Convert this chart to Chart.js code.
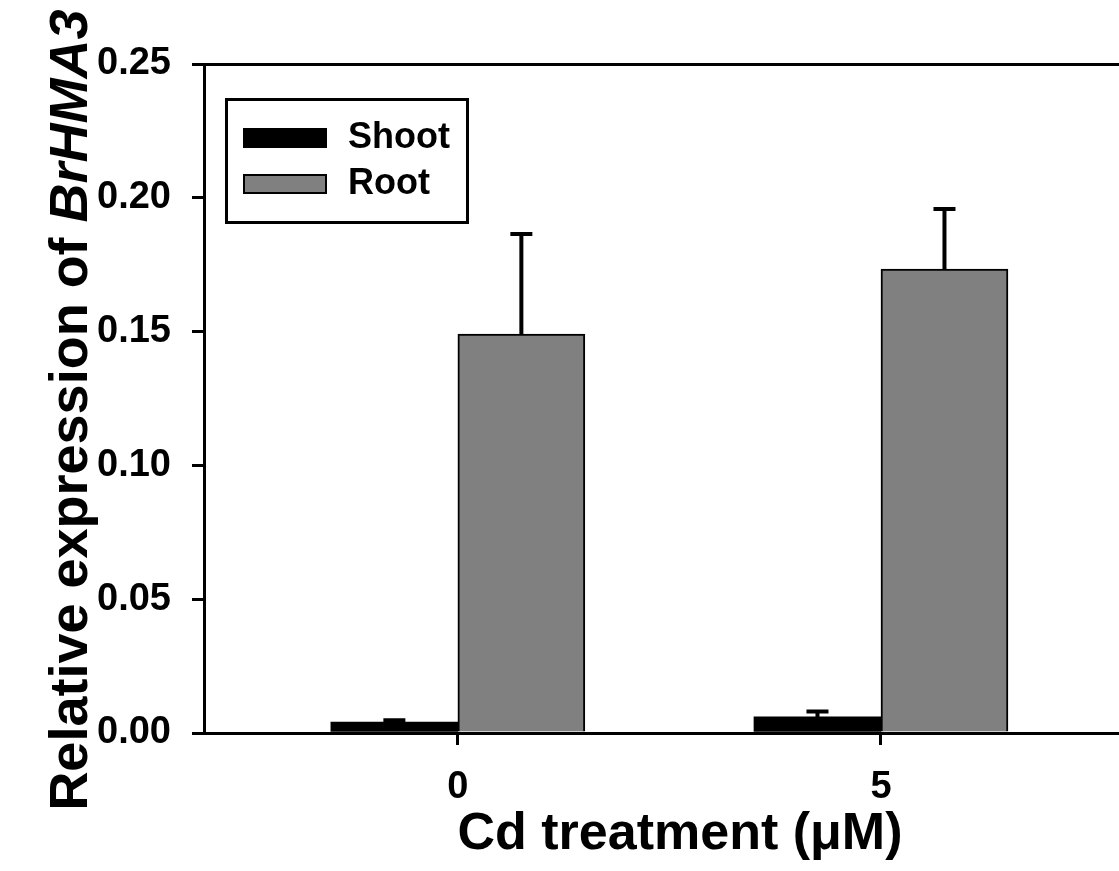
<!DOCTYPE html>
<html>
<head>
<meta charset="utf-8">
<script src="https://cdn.jsdelivr.net/npm/chart.js@4.4.1/dist/chart.umd.min.js"></script>
<style>
  html, body { margin: 0; padding: 0; background: #fff; }
  #wrap { width: 1119px; height: 871px; overflow: hidden; }
</style>
</head>
<body>
<div id="wrap"><canvas id="chart" width="1156" height="871"></canvas></div>
<script>
// Data
const treatments = [0, 5];
const seriesNames = ["Shoot", "Root"];
const shootMeans = [0.0041, 0.0060];
const shootErrors = [0.0007, 0.0020];
const rootMeans = [0.1491, 0.1734];
const rootErrors = [0.0374, 0.0224];
const yTicks = [0, 0.05, 0.10, 0.15, 0.20, 0.25];

const FONT = "'Liberation Sans', Arial, Helvetica, sans-serif";

// error bars (upper only, with a cap)
const errorBars = {
  id: "errorBars",
  afterDatasetsDraw(chart) {
    const { ctx, scales: { y } } = chart;
    ctx.save();
    ctx.strokeStyle = "#000";
    ctx.lineWidth = 4;
    chart.data.datasets.forEach((ds, d) => {
      chart.getDatasetMeta(d).data.forEach((bar, i) => {
        const top = y.getPixelForValue(ds.means[i] + ds.errors[i]);
        ctx.beginPath();
        ctx.moveTo(bar.x, bar.y);
        ctx.lineTo(bar.x, top);
        ctx.moveTo(bar.x - 11, top);
        ctx.lineTo(bar.x + 11, top);
        ctx.stroke();
      });
    });
    ctx.restore();
  }
};

// boxed legend inside the plot, plus the mixed-style y title
const extras = {
  id: "extras",
  afterDraw(chart) {
    const { ctx, chartArea } = chart;
    ctx.save();

    // legend
    const lx = chartArea.left + 21, ly = chartArea.top + 34;
    ctx.lineWidth = 3;
    ctx.strokeStyle = "#000";
    ctx.strokeRect(lx + 1.5, ly + 1.5, 241, 123);
    ctx.font = "bold 36px " + FONT;
    ctx.textBaseline = "middle";
    ctx.textAlign = "left";
    chart.data.datasets.forEach((ds, d) => {
      const sy = ly + 30 + d * 46;
      ctx.fillStyle = ds.backgroundColor;
      ctx.fillRect(lx + 18, sy, 84, 20);
      if (ds.borderWidth) {
        ctx.lineWidth = 2;
        ctx.strokeRect(lx + 19, sy + 1, 82, 18);
      }
      ctx.fillStyle = "#000";
      ctx.fillText(ds.label, lx + 123, sy + 10);
    });

    // y axis title: "Relative expression of " + italic "BrHMA3"
    const part1 = "Relative expression of ";
    const part2 = "BrHMA3";
    const f1 = "bold 54px " + FONT;
    const f2 = "italic bold 54px " + FONT;
    ctx.font = f1;
    const w1 = ctx.measureText(part1).width;
    ctx.font = f2;
    const w2 = ctx.measureText(part2).width;
    ctx.translate(87, 410);
    ctx.rotate(-Math.PI / 2);
    ctx.textBaseline = "alphabetic";
    ctx.fillStyle = "#000";
    ctx.font = f1;
    ctx.fillText(part1, -(w1 + w2) / 2, 0);
    ctx.font = f2;
    ctx.fillText(part2, -(w1 + w2) / 2 + w1, 0);
    ctx.restore();
  }
};

new Chart(document.getElementById("chart"), {
  type: "bar",
  data: {
    datasets: [
      {
        label: seriesNames[0],
        data: treatments.map((t, i) => ({ x: t, y: shootMeans[i] })),
        means: shootMeans,
        errors: shootErrors,
        backgroundColor: "#000000",
        borderColor: "#000000",
        borderWidth: 0
      },
      {
        label: seriesNames[1],
        data: treatments.map((t, i) => ({ x: t, y: rootMeans[i] })),
        means: rootMeans,
        errors: rootErrors,
        backgroundColor: "#808080",
        borderColor: "#000000",
        borderWidth: 2
      }
    ]
  },
  options: {
    responsive: false,
    animation: false,
    barThickness: 127,
    layout: { padding: { top: 64, right: 0, bottom: 0, left: 0 } },
    plugins: {
      legend: { display: false },
      tooltip: { enabled: false }
    },
    scales: {
      x: {
        type: "linear",
        min: -3,
        max: 8.25,
        offset: false,
        z: 1,
        afterBuildTicks: (s) => { s.ticks = treatments.map(v => ({ value: v })); },
        afterFit: (s) => { s.height = 138; },
        grid: {
          offset: false,
          drawOnChartArea: false,
          drawTicks: true,
          tickLength: 12,
          tickWidth: 3,
          tickColor: "#000"
        },
        border: { display: true, color: "#000", width: 3 },
        ticks: {
          color: "#000",
          padding: 20,
          font: { family: FONT, size: 38, weight: "bold" },
          callback: (v) => String(v)
        },
        title: {
          display: true,
          text: "Cd treatment (μM)",
          color: "#000",
          padding: { top: 0, bottom: 5 },
          font: { family: FONT, size: 52, weight: "bold" }
        }
      },
      y: {
        min: 0,
        max: 0.25,
        z: 1,
        afterBuildTicks: (s) => { s.ticks = yTicks.map(v => ({ value: v })); },
        afterFit: (s) => { s.width = 204; },
        grid: {
          drawOnChartArea: true,
          color: (c) => (c.tick && c.tick.value >= 0.25 ? "#000" : "rgba(0,0,0,0)"),
          lineWidth: 3,
          drawTicks: true,
          tickLength: 12,
          tickWidth: 3,
          tickColor: "#000"
        },
        border: { display: true, color: "#000", width: 3 },
        ticks: {
          color: "#000",
          padding: 21,
          font: { family: FONT, size: 38, weight: "bold" },
          callback: (v) => v.toFixed(2)
        }
      }
    }
  },
  plugins: [errorBars, extras]
});
</script>
</body>
</html>
